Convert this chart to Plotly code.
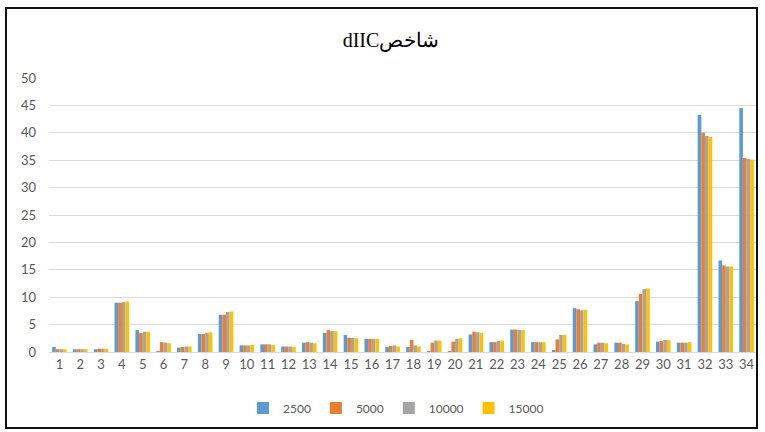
import plotly.graph_objects as go

categories = [str(i) for i in range(1, 35)]
series_names = ["2500", "5000", "10000", "15000"]

s2500 = [0.9, 0.5, 0.5, 9.0, 4.0, 0.1, 0.8, 3.3, 6.8, 1.2, 1.4, 1.0, 1.7, 3.5, 3.1, 2.4, 0.9,
         0.9, 0.1, 0.1, 3.2, 1.8, 4.1, 1.8, 0.2, 8.0, 1.4, 1.7, 9.3, 1.9, 1.7, 43.3, 16.7, 44.5]
s5000 = [0.5, 0.5, 0.6, 9.0, 3.5, 1.8, 0.9, 3.3, 6.8, 1.2, 1.4, 1.0, 1.8, 4.0, 2.6, 2.4, 1.1,
         2.2, 1.7, 1.9, 3.7, 1.8, 4.1, 1.8, 2.3, 7.8, 1.7, 1.7, 10.6, 2.0, 1.7, 40.0, 15.8, 35.4]
s10000 = [0.5, 0.5, 0.6, 9.1, 3.7, 1.7, 1.0, 3.5, 7.3, 1.2, 1.4, 1.0, 1.7, 3.8, 2.6, 2.4, 1.2,
          1.2, 2.1, 2.4, 3.6, 2.0, 4.0, 1.8, 3.1, 7.6, 1.7, 1.5, 11.5, 2.2, 1.7, 39.4, 15.6, 35.2]
s15000 = [0.5, 0.5, 0.6, 9.2, 3.7, 1.6, 1.0, 3.6, 7.4, 1.3, 1.3, 0.9, 1.6, 3.8, 2.5, 2.4, 1.0,
          1.0, 2.1, 2.5, 3.5, 2.1, 4.0, 1.8, 3.1, 7.7, 1.6, 1.4, 11.6, 2.2, 1.8, 39.3, 15.6, 35.1]

colors = ["#5B9BD5", "#ED7D31", "#A5A5A5", "#FFC000"]
y_ticks = list(range(0, 51, 5))

fig = go.Figure()
for name, vals, c in zip(series_names, [s2500, s5000, s10000, s15000], colors):
    fig.add_trace(go.Bar(x=categories, y=vals, name=name, marker=dict(color=c, line=dict(width=0))))

W, H = 765, 432
ml, mr, mt, mb = 49, 8, 78, 80
pw = W - ml - mr
ph = H - mt - mb

fig.update_layout(
    width=W, height=H,
    margin=dict(l=ml, r=mr, t=mt, b=mb, pad=0, autoexpand=False),
    paper_bgcolor="white", plot_bgcolor="white",
    barmode="group", bargap=0.3, bargroupgap=0,
    title=dict(text="\u202bشاخصdIIC\u202c", x=391 / W, xanchor="center", y=1 - 40 / H, yanchor="middle",
               font=dict(family="Liberation Serif", size=20, color="#000000")),
    font=dict(family="Lato", size=13, color="#595959"),
    xaxis=dict(type="category", showgrid=False, showline=True, linecolor="#D9D9D9", linewidth=1,
               ticks="", tickfont=dict(size=13, color="#595959"), fixedrange=True),
    yaxis=dict(range=[0, 50], tickvals=y_ticks, showgrid=True, gridcolor="#D9D9D9", gridwidth=1,
               zeroline=False, showline=False, ticks="", ticklabelstandoff=12,
               tickfont=dict(size=13, color="#595959")),
    legend=dict(orientation="h", x=(396 - ml) / pw, xanchor="center", y=-(408 - (H - mb)) / ph, yanchor="middle",
                font=dict(size=12, color="#595959"), itemwidth=30, traceorder="normal",
                tracegroupgap=0),
    showlegend=True,
)

# outer frame
def px_x(x):
    return (x - ml) / pw
def px_y(y):
    return (H - mb - y) / ph
fig.add_shape(type="rect", xref="paper", yref="paper",
              x0=px_x(6), x1=px_x(757), y0=px_y(428), y1=px_y(8),
              line=dict(color="#111111", width=2), fillcolor="rgba(0,0,0,0)", layer="above")

fig.write_html("out.html", config={"displayModeBar": False},
               post_script="document.body.style.margin='0';document.body.style.padding='0';")
